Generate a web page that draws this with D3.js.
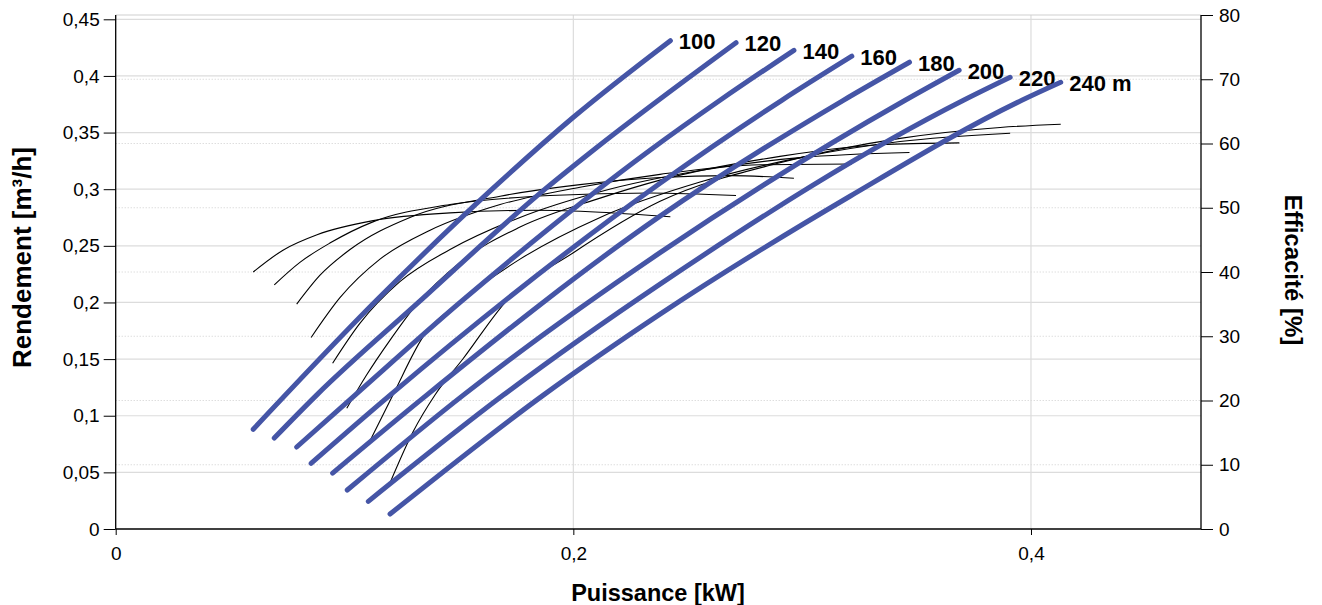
<!DOCTYPE html>
<html><head><meta charset="utf-8">
<script src="https://cdn.jsdelivr.net/npm/d3@7"></script>
<style>
html,body{margin:0;padding:0;background:#fff;}
svg{display:block;font-family:"Liberation Sans",Arial,sans-serif;}
</style></head>
<body>
<svg id="chart" width="1322" height="605"></svg>
<script>
// ---- Data ----
const heads = ["100", "120", "140", "160", "180", "200", "220", "240 m"];
const xTicks = [0, 0.2, 0.4];
const yLeftTicks = [0, 0.05, 0.1, 0.15, 0.2, 0.25, 0.3, 0.35, 0.4, 0.45];
const yRightTicks = [0, 10, 20, 30, 40, 50, 60, 70, 80];

// Flow (m³/h) vs power (kW), one array per head
const flowP = [
  [0.0601, 0.1141, 0.1645, 0.2000, 0.2424],
  [0.0693, 0.0878, 0.1323, 0.1876, 0.2087, 0.2711],
  [0.0791, 0.1046, 0.1505, 0.2335, 0.2641, 0.2964],
  [0.0854, 0.1199, 0.2379, 0.2911, 0.3217],
  [0.0948, 0.1359, 0.2379, 0.3180, 0.3469],
  [0.1012, 0.1519, 0.2379, 0.3450, 0.3686],
  [0.1104, 0.1694, 0.2379, 0.3705, 0.3909],
  [0.1199, 0.1869, 0.2379, 0.3209, 0.3960, 0.4130]
];
const flowQ = [
  [0.0880, 0.2021, 0.3000, 0.3635, 0.4311],
  [0.0803, 0.1182, 0.2000, 0.3000, 0.3344, 0.4293],
  [0.0724, 0.1182, 0.2000, 0.3344, 0.3785, 0.4226],
  [0.0580, 0.1182, 0.3053, 0.3785, 0.4174],
  [0.0494, 0.1182, 0.2762, 0.3785, 0.4121],
  [0.0344, 0.1182, 0.2440, 0.3785, 0.4050],
  [0.0244, 0.1182, 0.2162, 0.3785, 0.3988],
  [0.0132, 0.1182, 0.1897, 0.2938, 0.3785, 0.3944]
];
// Efficiency (%) vs power (kW), one array per head
const effP = [
  [0.0601, 0.0731, 0.0880, 0.1125, 0.1461, 0.1837, 0.2117, 0.2424],
  [0.0693, 0.0805, 0.0936, 0.1124, 0.1461, 0.1898, 0.2335, 0.2711],
  [0.0791, 0.0893, 0.1024, 0.1286, 0.1680, 0.2029, 0.2379, 0.2685, 0.2964],
  [0.0854, 0.0980, 0.1155, 0.1374, 0.1680, 0.2029, 0.2379, 0.2816, 0.3217],
  [0.0948, 0.1067, 0.1242, 0.1461, 0.1767, 0.2117, 0.2554, 0.2991, 0.3469],
  [0.1010, 0.1097, 0.1199, 0.1316, 0.1505, 0.1767, 0.2117, 0.2379, 0.2903, 0.3340, 0.3687],
  [0.1104, 0.1212, 0.1343, 0.1514, 0.1767, 0.2117, 0.2554, 0.2991, 0.3428, 0.3909],
  [0.1199, 0.1299, 0.1396, 0.1518, 0.1710, 0.2000, 0.2379, 0.2903, 0.3428, 0.3865, 0.4130]
];
const effE = [
  [40.0, 43.4, 45.8, 48.0, 49.2, 49.6, 49.3, 48.6],
  [38.0, 41.5, 44.5, 47.8, 50.5, 51.9, 52.3, 51.9],
  [35.0, 39.5, 43.5, 48.5, 51.8, 53.6, 54.7, 55.0, 54.6],
  [29.8, 36.0, 42.0, 46.5, 50.5, 53.2, 55.2, 56.7, 56.8],
  [25.8, 32.0, 38.5, 43.5, 48.5, 52.5, 55.8, 57.8, 58.6],
  [18.8, 24.0, 29.4, 35.0, 41.5, 47.0, 51.5, 54.3, 58.0, 59.8, 60.1],
  [13.2, 20.9, 29.9, 35.6, 42.0, 48.5, 54.0, 57.8, 60.3, 61.6],
  [7.2, 15.1, 20.9, 26.5, 35.6, 43.0, 51.0, 57.0, 60.8, 62.5, 63.0]
];

// ---- Layout ----
const pLeft = 115.7, pRight = 1201, pTop = 15, pBottom = 529;
const xMax = 0.4743;

const svg = d3.select("#chart");
const x = d3.scaleLinear().domain([0, xMax]).range([pLeft, pRight]);
const yL = d3.scaleLinear().domain([0, 0.45]).range([pBottom, 19.3]);
const yR = d3.scaleLinear().domain([0, 80]).range([pBottom, pTop]);
const fmt = d => d === 0 ? "0" : String(d).replace(".", ",");

// gridlines
const g = svg.append("g");
g.selectAll(".gl").data(yLeftTicks.filter(d => d > 0)).join("line")
  .attr("x1", pLeft).attr("x2", pRight)
  .attr("y1", d => yL(d)).attr("y2", d => yL(d))
  .attr("stroke", "#dcdcdc").attr("stroke-width", 1.2);
g.selectAll(".gr").data(yRightTicks.filter(d => d > 0 && d < 80)).join("line")
  .attr("x1", pLeft).attr("x2", pRight)
  .attr("y1", d => yR(d)).attr("y2", d => yR(d))
  .attr("stroke", "#cfcfcf").attr("stroke-width", 1).attr("stroke-dasharray", "1,2");
g.selectAll(".gx").data(xTicks.filter(d => d > 0)).join("line")
  .attr("x1", d => x(d)).attr("x2", d => x(d))
  .attr("y1", pTop).attr("y2", pBottom)
  .attr("stroke", "#dcdcdc").attr("stroke-width", 1.2);
g.append("line").attr("x1", pLeft).attr("x2", pRight).attr("y1", pTop).attr("y2", pTop)
  .attr("stroke", "#d0d0d0").attr("stroke-width", 1.2);

// axes
const tickFont = "19px";
const axL = svg.append("g").attr("transform", `translate(${pLeft},0)`)
  .call(d3.axisLeft(yL).tickValues(yLeftTicks).tickFormat(fmt).tickSize(12).tickPadding(4));
const axR = svg.append("g").attr("transform", `translate(${pRight},0)`)
  .call(d3.axisRight(yR).tickValues(yRightTicks).tickFormat(fmt).tickSize(12).tickPadding(6));
const axB = svg.append("g").attr("transform", `translate(0,${pBottom})`)
  .call(d3.axisBottom(x).tickValues(xTicks).tickFormat(fmt).tickSize(6).tickPadding(12));
[axL, axR, axB].forEach(a => {
  a.selectAll("text").attr("font-size", tickFont).attr("fill", "#000")
    .attr("font-family", "'Liberation Sans', Arial, sans-serif");
  a.selectAll("line").attr("stroke", "#000");
  a.select(".domain").attr("stroke", "#000").attr("stroke-width", 1.3);
});
axL.select(".domain").attr("d", `M0,${pBottom}V${pTop}`);
axR.select(".domain").attr("d", `M0,${pBottom}V${pTop}`);
axB.select(".domain").attr("d", `M${pLeft},0H${pRight}`);

// efficiency curves (black thin)
const lineE = d3.line().x(d => x(d[0])).y(d => yR(d[1])).curve(d3.curveMonotoneX);
effP.forEach((ps, i) => {
  const pts = ps.map((p, j) => [p, effE[i][j]]);
  svg.append("path").attr("d", lineE(pts)).attr("fill", "none")
    .attr("stroke", "#000").attr("stroke-width", 1.1);
});

// flow curves (blue thick)
const lineQ = d3.line().x(d => x(d[0])).y(d => yL(d[1])).curve(d3.curveMonotoneX);
flowP.forEach((ps, i) => {
  const pts = ps.map((p, j) => [p, flowQ[i][j]]);
  svg.append("path").attr("d", lineQ(pts)).attr("fill", "none")
    .attr("stroke", "#4555a6").attr("stroke-width", 5).attr("stroke-linecap", "round");
  const last = pts[pts.length - 1];
  svg.append("text").attr("x", x(last[0]) + 8.5).attr("y", yL(last[1]) + 8.5)
    .attr("font-size", "22px").attr("font-weight", "bold").attr("fill", "#000")
    .text(heads[i]);
});

// axis titles
svg.append("text").attr("transform", `translate(31,257.5) rotate(-90)`)
  .attr("text-anchor", "middle").attr("font-size", "26px").attr("font-weight", "bold")
  .text("Rendement [m³/h]");
svg.append("text").attr("transform", `translate(1285,270) rotate(90)`)
  .attr("text-anchor", "middle").attr("font-size", "24px").attr("font-weight", "bold")
  .text("Efficacité [%]");
svg.append("text").attr("x", 658).attr("y", 601)
  .attr("text-anchor", "middle").attr("font-size", "23.5px").attr("font-weight", "bold")
  .text("Puissance [kW]");
</script>
</body></html>
